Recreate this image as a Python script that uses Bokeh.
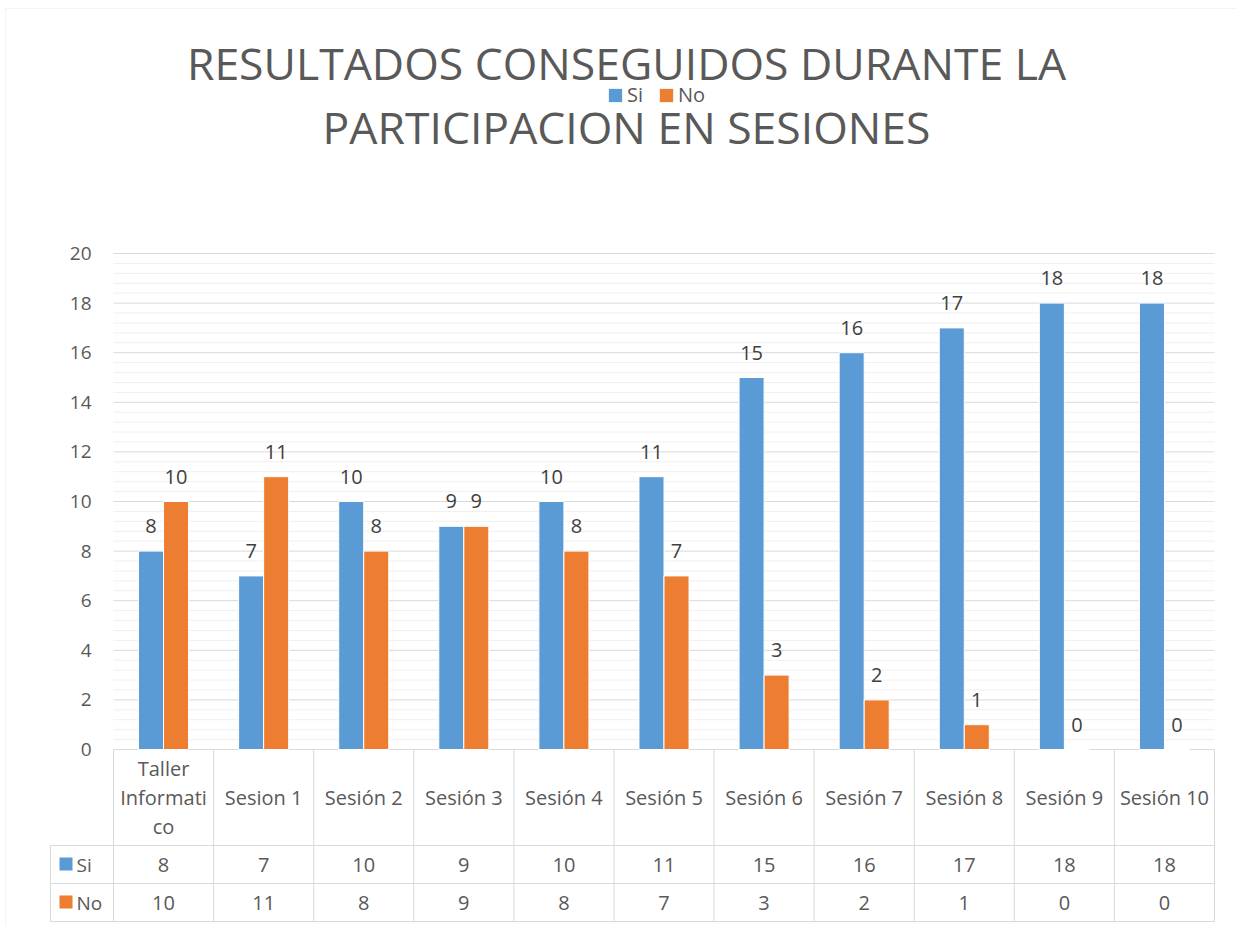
from bokeh.plotting import figure
from bokeh.models import (Range1d, FixedTicker, ColumnDataSource, Label,
                          BoxAnnotation, Legend, LegendItem)
from bokeh.transform import dodge
from bokeh.core.properties import value
from bokeh.embed import file_html
from bokeh.resources import INLINE

# ---------------- data ----------------
categories = ["Taller Informatico", "Sesion 1", "Sesión 2", "Sesión 3", "Sesión 4",
              "Sesión 5", "Sesión 6", "Sesión 7", "Sesión 8", "Sesión 9", "Sesión 10"]
header_labels = ["Taller\nInformati\nco", "Sesion 1", "Sesión 2", "Sesión 3", "Sesión 4",
                 "Sesión 5", "Sesión 6", "Sesión 7", "Sesión 8", "Sesión 9", "Sesión 10"]
si = [8, 7, 10, 9, 10, 11, 15, 16, 17, 18, 18]
no = [10, 11, 8, 9, 8, 7, 3, 2, 1, 0, 0]
series_names = ["Si", "No"]
y_ticks = [0, 2, 4, 6, 8, 10, 12, 14, 16, 18, 20]
title_lines = ["RESULTADOS CONSEGUIDOS DURANTE LA", "PARTICIPACION EN SESIONES"]

# ---------------- style ----------------
BLUE = "#5B9BD5"
ORANGE = "#ED7D31"
TXT = "#595959"
LBL = "#404040"
GRID = "#D9D9D9"
MINOR = "#F0F0F0"
FONT = "Open Sans"

# ---------------- layout (canvas pixels) ----------------
W, H = 1236, 926
FR_L = 4                      # frame covers the whole canvas right of this
CAT_L, CAT_R = 113, 1214      # category band
Y20, Y0 = 253, 749            # pixel rows of 20 and 0
TAB_L = 50                    # left edge of the table's legend column
ROW_HEAD_B, ROW_SI_B, ROW_NO_B = 845, 883, 921
n = len(categories)
CW = (CAT_R - CAT_L) / n
UNIT = (Y0 - Y20) / 20.0


def X(px):
    return -0.5 + (px - CAT_L) / CW


def Y(py):
    return (Y0 - py) / UNIT


p = figure(width=W, height=H,
           x_range=Range1d(X(FR_L), X(W)), y_range=Range1d(Y(H), Y(0)),
           output_backend="svg", toolbar_location=None, x_axis_location=None,
           min_border_left=FR_L, min_border_right=0,
           min_border_top=0, min_border_bottom=0)
p.outline_line_color = None
p.background_fill_color = "white"
p.border_fill_color = "white"
p.xgrid.visible = False
p.ygrid.visible = False

# y axis (labels pulled into the canvas next to the plot area)
p.yaxis.ticker = FixedTicker(ticks=y_ticks)
p.yaxis.axis_line_color = None
p.yaxis.major_tick_line_color = None
p.yaxis.minor_tick_line_color = None
p.yaxis.major_tick_out = 0
p.yaxis.major_tick_in = 0
p.yaxis.major_label_text_font = FONT
p.yaxis.major_label_text_font_size = "19px"
p.yaxis.major_label_text_color = TXT
p.yaxis.major_label_standoff = -(91 - FR_L)

# gridlines over the plot area only
minor = [t / 10 for t in range(4, 200, 4) if t % 20 != 0]
p.segment(x0=[-0.5] * len(minor), x1=[n - 0.5] * len(minor), y0=minor, y1=minor,
          line_color=MINOR, line_width=1)
p.segment(x0=[-0.5] * len(y_ticks), x1=[n - 0.5] * len(y_ticks), y0=y_ticks, y1=y_ticks,
          line_color=GRID, line_width=1)

src = ColumnDataSource(dict(
    x=list(range(n)), si=si, no=no,
    si_txt=[str(v) for v in si], no_txt=[str(v) for v in no],
    cat=header_labels,
))

BAR_W = 0.25
r_si = p.vbar(x=dodge("x", -BAR_W / 2, range=p.x_range), top="si", width=BAR_W,
              source=src, fill_color=BLUE, line_color="white", line_width=1)
r_no = p.vbar(x=dodge("x", BAR_W / 2, range=p.x_range), top="no", width=BAR_W,
              source=src, fill_color=ORANGE, line_color="white", line_width=1)

for col, txt, off in (("si", "si_txt", -BAR_W / 2), ("no", "no_txt", BAR_W / 2)):
    p.text(x=dodge("x", off, range=p.x_range), y=col, text=txt, source=src,
           text_align="center", text_baseline="alphabetic", y_offset=-25,
           text_font=value(FONT), text_font_size="20px", text_color=LBL)

# ---------------- data table ----------------
xs = [i - 0.5 for i in range(n + 1)]
p.segment(x0=xs, x1=xs, y0=[0] * len(xs), y1=[Y(ROW_NO_B)] * len(xs),
          line_color=GRID, line_width=1)
rows = [Y(ROW_HEAD_B), Y(ROW_SI_B), Y(ROW_NO_B)]
p.segment(x0=[X(TAB_L)] * 3, x1=[n - 0.5] * 3, y0=rows, y1=rows,
          line_color=GRID, line_width=1)
p.segment(x0=[X(TAB_L)], x1=[X(TAB_L)], y0=[Y(ROW_HEAD_B)], y1=[Y(ROW_NO_B)],
          line_color=GRID, line_width=1)

p.text(x="x", y=Y((Y0 + ROW_HEAD_B) / 2), text="cat", source=src,
       text_align="center", text_baseline="middle", text_line_height=1.07,
       text_font=value(FONT), text_font_size="20px", text_color=TXT)
p.text(x="x", y=Y((ROW_HEAD_B + ROW_SI_B) / 2), text="si_txt", source=src,
       text_align="center", text_baseline="middle",
       text_font=value(FONT), text_font_size="20px", text_color=TXT)
p.text(x="x", y=Y((ROW_SI_B + ROW_NO_B) / 2), text="no_txt", source=src,
       text_align="center", text_baseline="middle",
       text_font=value(FONT), text_font_size="20px", text_color=TXT)

# legend keys inside the table's first column
for (top, bot), color, name in zip(((ROW_HEAD_B, ROW_SI_B), (ROW_SI_B, ROW_NO_B)),
                                   (BLUE, ORANGE), series_names):
    mid = (top + bot) / 2
    p.add_layout(BoxAnnotation(left=X(59), right=X(72), top=Y(mid - 7), bottom=Y(mid + 6),
                               fill_color=color, fill_alpha=1, line_alpha=0))
    p.add_layout(Label(x=X(76), y=Y(mid), text=name, text_align="left",
                       text_baseline="middle", text_font=FONT,
                       text_font_size="19px", text_color=TXT))

# outer chart border
p.add_layout(BoxAnnotation(left=X(5), right=X(1500), top=Y(8), bottom=Y(1200),
                           fill_alpha=0, line_color=GRID, line_width=1))

# ---------------- title ----------------
for line, base in zip(title_lines, (62, 126)):
    p.add_layout(Label(x=X(626), y=Y(base), text=line, text_align="center",
                       text_baseline="alphabetic", text_font=FONT,
                       text_font_size="44.5px", text_color=TXT))

# ---------------- legend ----------------
LEG_X, LEG_B = 606, 108
legend = Legend(items=[LegendItem(label=series_names[0], renderers=[r_si]),
                       LegendItem(label=series_names[1], renderers=[r_no])],
                orientation="horizontal", location=(LEG_X - FR_L, H - LEG_B),
                padding=0, margin=0, spacing=10, glyph_width=18, glyph_height=18,
                label_standoff=3, label_height=18, label_text_font=FONT,
                label_text_font_size="20px", label_text_color=TXT,
                border_line_color=None, background_fill_alpha=0)
p.add_layout(legend)

open("out.html", "w").write(file_html(p, INLINE))
